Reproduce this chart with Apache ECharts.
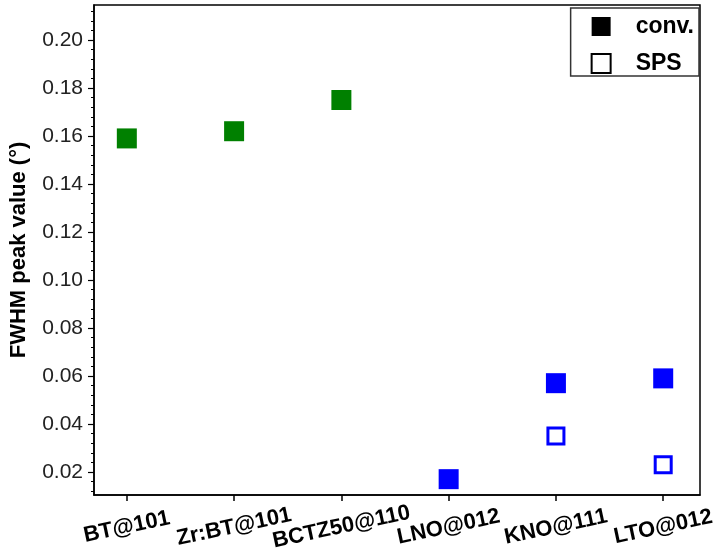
<!DOCTYPE html>
<html>
<head>
<meta charset="utf-8">
<script src="https://cdn.jsdelivr.net/npm/echarts/dist/echarts.min.js"></script>
<style>html,body{margin:0;padding:0;background:#fff;}#main{width:722px;height:558px;}</style>
</head>
<body>
<div id="main"></div>
<script>
const categories = ['BT@101', 'Zr:BT@101', 'BCTZ50@110', 'LNO@012', 'KNO@111', 'LTO@012'];
const convGreen = [0.159, 0.162, 0.175, null, null, null];
const convBlue = [null, null, null, 0.017, 0.057, 0.059];
const spsBlue = [null, null, null, null, 0.035, 0.023];
const yTicks = [0.02, 0.04, 0.06, 0.08, 0.10, 0.12, 0.14, 0.16, 0.18, 0.20];
const yMinorTicks = [0.012, 0.016, 0.024, 0.028, 0.032, 0.036, 0.044, 0.048, 0.052, 0.056,
  0.064, 0.068, 0.072, 0.076, 0.084, 0.088, 0.092, 0.096, 0.104, 0.108, 0.112, 0.116,
  0.124, 0.128, 0.132, 0.136, 0.144, 0.148, 0.152, 0.156, 0.164, 0.168, 0.172, 0.176,
  0.184, 0.188, 0.192, 0.196, 0.204, 0.208, 0.212];

function pts(arr) {
  const out = [];
  arr.forEach((v, i) => { if (v !== null) out.push([i + 1, v]); });
  return out;
}
const xPos = categories.map((c, i) => i + 1);

const chart = echarts.init(document.getElementById('main'));
const font = 'Liberation Sans, Arial, sans-serif';
chart.setOption({
  animation: false,
  backgroundColor: '#fff',
  grid: { left: 90, right: 22, top: 5, bottom: 63, show: true, borderColor: '#000', borderWidth: 1.5, backgroundColor: 'transparent' },
  legend: {
    orient: 'vertical', right: 23, top: 8,
    borderColor: '#333', borderWidth: 1.5,
    padding: [7, 5, 1, 20],
    itemWidth: 19, itemHeight: 19, itemGap: 14,
    textStyle: { fontFamily: font, fontSize: 23, lineHeight: 20, fontWeight: 'bold', color: '#000', padding: [0, 0, 0, 20] },
    data: [
      { name: 'conv.', icon: 'rect', itemStyle: { color: '#000', borderWidth: 0 } },
      { name: 'SPS', icon: 'rect', itemStyle: { color: '#fff', borderColor: '#000', borderWidth: 2 } }
    ]
  },
  xAxis: {
    type: 'value', min: 0.694, max: 6.343,
    splitLine: { show: false },
    axisLine: { lineStyle: { color: '#000', width: 1.5 } },
    axisTick: { customValues: xPos, length: 6, lineStyle: { color: '#000', width: 1.5 } },
    axisLabel: {
      customValues: xPos,
      formatter: v => categories[Math.round(v) - 1] || '',
      rotate: 12, align: 'center', verticalAlign: 'middle', margin: 32,
      fontFamily: font, fontSize: 22, fontWeight: 'bold', color: '#000'
    }
  },
  yAxis: [{
    type: 'value', min: 0.0104, max: 0.2146,
    name: 'FWHM peak value (°)', nameLocation: 'middle', nameGap: 64,
    nameTextStyle: { fontFamily: font, fontSize: 22, fontWeight: 'bold', color: '#000' },
    splitLine: { show: false },
    axisLine: { lineStyle: { color: '#000', width: 1.5 } },
    axisTick: { customValues: yTicks, length: 6, lineStyle: { color: '#000', width: 1.2 } },
    axisLabel: { customValues: yTicks, formatter: v => v.toFixed(2), margin: 11, fontFamily: font, fontSize: 21, color: '#222' }
  }, {
    type: 'value', min: 0.0104, max: 0.2146, position: 'left', offset: 0,
    splitLine: { show: false },
    axisLine: { show: false },
    axisTick: { customValues: yMinorTicks, length: 3, lineStyle: { color: '#000', width: 1 } },
    axisLabel: { show: false }
  }],
  series: [
    { name: 'conv.', type: 'scatter', symbol: 'rect', symbolSize: 20, data: pts(convGreen),
      itemStyle: { color: '#008000', opacity: 1 } },
    { name: 'conv.', type: 'scatter', symbol: 'rect', symbolSize: 20, data: pts(convBlue),
      itemStyle: { color: '#0000ff', opacity: 1 } },
    { name: 'SPS', type: 'scatter', symbol: 'rect', symbolSize: 16, data: pts(spsBlue),
      itemStyle: { color: '#fff', borderColor: '#0000ff', borderWidth: 3, opacity: 1 } }
  ]
});
</script>
</body>
</html>
